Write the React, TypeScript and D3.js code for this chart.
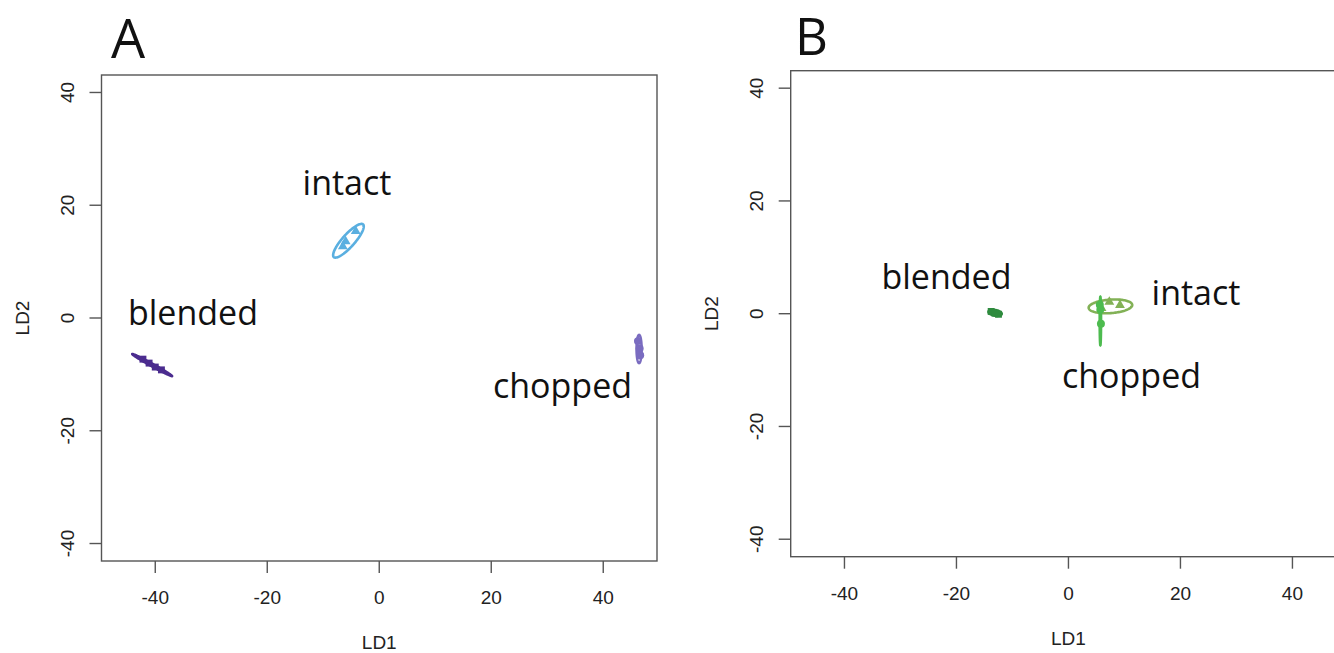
import React from "react";
import * as d3 from "d3";

// ---- data ----
const axisTicks = [-40, -20, 0, 20, 40];
const xDomain = [-49.6, 49.6];
const yDomain = [-43.1, 43.1];

// Panel A (LD1, LD2)
const aBlendedX = [-42.2, -41.1, -40.0, -38.9];
const aBlendedY = [-7.3, -8.0, -8.7, -9.2];
const aIntactX = [-4.2, -6.0, -6.5];
const aIntactY = [15.4, 13.6, 12.7];
const aChoppedX = [46.2, 46.5, 46.6];
const aChoppedY = [-4.1, -5.4, -6.6];
// ellipses: [cx, cy, semiMajor, semiMinor, angleDeg]
const aBlendedEllipse = [-40.55, -8.35, 4.05, 0.22, -28.8];
const aIntactEllipse = [-5.5, 13.7, 3.9, 1.1, 48];
const aChoppedEllipse = [46.4, -5.5, 2.5, 0.45, 90];

// Panel B
const bBlendedX = [-13.8, -13.1, -12.5];
const bBlendedY = [0.4, 0.1, -0.1];
const bIntactX = [7.3, 9.2, 5.9];
const bIntactY = [2.1, 1.5, 1.0];
const bChoppedX = [5.7, 5.8, 5.6];
const bChoppedY = [0.75, -1.8, 1.6];
const bBlendedEllipse = [-13.1, 0.15, 1.2, 0.5, -10];
const bIntactEllipse = [7.5, 1.3, 3.9, 1.2, 4];
const bChoppedEllipse = [5.7, -1.3, 4.3, 0.12, 90];

const groupLabels = ["blended", "intact", "chopped"];

type Group = {
  xs: number[];
  ys: number[];
  ellipse: number[];
  shape: "square" | "triangle" | "circle";
  color: string;
};

type Panel = {
  title: string;
  left: number;
  top: number;
  width: number;
  height: number;
  titleX: number;
  titleY: number;
  titleSize: number;
  groups: Group[];
  labels: { text: string; x: number; y: number }[];
};

const panels: Panel[] = [
  {
    title: "A",
    left: 101.5,
    top: 75,
    width: 555.5,
    height: 486,
    titleX: 111,
    titleY: 58,
    titleSize: 54,
    groups: [
      { xs: aBlendedX, ys: aBlendedY, ellipse: aBlendedEllipse, shape: "square", color: "#4b2c8f" },
      { xs: aIntactX, ys: aIntactY, ellipse: aIntactEllipse, shape: "triangle", color: "#5aafe0" },
      { xs: aChoppedX, ys: aChoppedY, ellipse: aChoppedEllipse, shape: "circle", color: "#7a6cc0" },
    ],
    labels: [
      { text: groupLabels[0], x: 193, y: 325 },
      { text: groupLabels[1], x: 347, y: 195 },
      { text: groupLabels[2], x: 562.5, y: 398 },
    ],
  },
  {
    title: "B",
    left: 790.7,
    top: 70.7,
    width: 555.5,
    height: 486,
    titleX: 795,
    titleY: 55,
    titleSize: 51,
    groups: [
      { xs: bBlendedX, ys: bBlendedY, ellipse: bBlendedEllipse, shape: "square", color: "#2e8b3e" },
      { xs: bIntactX, ys: bIntactY, ellipse: bIntactEllipse, shape: "triangle", color: "#82b156" },
      { xs: bChoppedX, ys: bChoppedY, ellipse: bChoppedEllipse, shape: "circle", color: "#4dbb4f" },
    ],
    labels: [
      { text: groupLabels[0], x: 946.5, y: 289 },
      { text: groupLabels[1], x: 1196, y: 305 },
      { text: groupLabels[2], x: 1131.5, y: 388 },
    ],
  },
];

const axisColor = "#555";
const textColor = "#222";
const tickFont = "'Liberation Sans', Arial, sans-serif";
const labelFont = "'Open Sans', sans-serif";

function ellipsePath(
  e: number[],
  x: d3.ScaleLinear<number, number>,
  y: d3.ScaleLinear<number, number>
) {
  const [cx, cy, a, b, deg] = e;
  const t = (deg * Math.PI) / 180;
  const pts: [number, number][] = d3.range(0, 120).map((i) => {
    const p = (i / 120) * 2 * Math.PI;
    const dx = cx + a * Math.cos(p) * Math.cos(t) - b * Math.sin(p) * Math.sin(t);
    const dy = cy + a * Math.cos(p) * Math.sin(t) + b * Math.sin(p) * Math.cos(t);
    return [x(dx), y(dy)];
  });
  return d3.line().curve(d3.curveLinearClosed)(pts) || "";
}

function symbolPath(shape: string) {
  if (shape === "square") return d3.symbol(d3.symbolSquare, 48)() || "";
  if (shape === "triangle") return d3.symbol(d3.symbolTriangle, 42)() || "";
  return d3.symbol(d3.symbolCircle, 50)() || "";
}

function PanelView({ p }: { p: Panel }) {
  const x = d3.scaleLinear().domain(xDomain).range([p.left, p.left + p.width]);
  const y = d3.scaleLinear().domain(yDomain).range([p.top + p.height, p.top]);
  const bottom = p.top + p.height;
  const right = p.left + p.width;
  const tickLen = 12;
  const midX = (p.left + right) / 2;
  const midY = (p.top + bottom) / 2;
  return (
    <g>
      <text
        x={p.titleX}
        y={p.titleY}
        fontFamily={labelFont}
        fontSize={p.titleSize}
        fill="#111"
      >
        {p.title}
      </text>
      <rect
        x={p.left}
        y={p.top}
        width={p.width}
        height={p.height}
        fill="none"
        stroke={axisColor}
        strokeWidth={1.4}
      />
      {axisTicks.map((t) => (
        <g key={"x" + t}>
          <line x1={x(t)} x2={x(t)} y1={bottom} y2={bottom + tickLen} stroke={axisColor} strokeWidth={1.4} />
          <text
            x={x(t)}
            y={bottom + 43}
            textAnchor="middle"
            fontFamily={tickFont}
            fontSize={19}
            fill={textColor}
          >
            {t}
          </text>
        </g>
      ))}
      {axisTicks.map((t) => (
        <g key={"y" + t}>
          <line x1={p.left - tickLen} x2={p.left} y1={y(t)} y2={y(t)} stroke={axisColor} strokeWidth={1.4} />
          <text
            transform={`translate(${p.left - 27.5},${y(t)}) rotate(-90)`}
            textAnchor="middle"
            fontFamily={tickFont}
            fontSize={19}
            fill={textColor}
          >
            {t}
          </text>
        </g>
      ))}
      <text x={midX} y={bottom + 88} textAnchor="middle" fontFamily={tickFont} fontSize={19} fill={textColor}>
        LD1
      </text>
      <text
        transform={`translate(${p.left - 72.5},${midY}) rotate(-90)`}
        textAnchor="middle"
        fontFamily={tickFont}
        fontSize={19}
        fill={textColor}
      >
        LD2
      </text>
      {p.groups.map((g, gi) => (
        <g key={"g" + gi}>
          <path d={ellipsePath(g.ellipse, x, y)} fill="none" stroke={g.color} strokeWidth={2.6} />
          {g.xs.map((v, i) => (
            <path
              key={i}
              d={symbolPath(g.shape)}
              transform={`translate(${x(v)},${y(g.ys[i])})`}
              fill={g.color}
            />
          ))}
        </g>
      ))}
      {p.labels.map((l) => (
        <text
          key={l.text}
          x={l.x}
          y={l.y}
          textAnchor="middle"
          fontFamily={labelFont}
          fontSize={34}
          fill="#111"
        >
          {l.text}
        </text>
      ))}
    </g>
  );
}

export default function App() {
  return (
    <svg
      width={1334}
      height={653}
      style={{ position: "absolute", left: 0, top: 0, background: "#fff" }}
    >
      <rect x={0} y={0} width={1334} height={653} fill="#fff" />
      {panels.map((p) => (
        <PanelView key={p.title} p={p} />
      ))}
    </svg>
  );
}
